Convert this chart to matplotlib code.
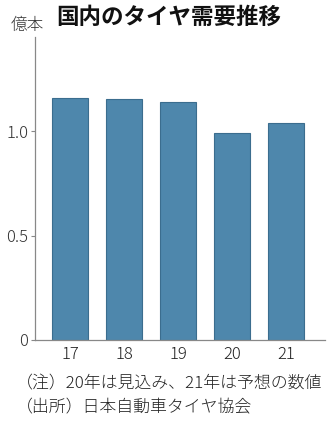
import matplotlib.pyplot as plt

plt.rcParams['font.family'] = ['Noto Sans CJK JP', 'DejaVu Sans']

years = ['17', '18', '19', '20', '21']
demand = [1.158, 1.153, 1.14, 0.99, 1.038]  # 億本
yticks = [0, 0.5, 1.0]
ytick_labels = ['0', '0.5', '1.0']

fig = plt.figure(figsize=(3.36, 4.26), dpi=100)
ax = fig.add_axes([35 / 336, 86 / 426, 290 / 336, 303 / 426])

x = range(len(years))
ax.bar(x, demand, width=0.67, color='#4e87ac', edgecolor='#3b6d8e', linewidth=0.8)

ax.set_xlim(-0.65, 4.72)
ax.set_ylim(0, 1.45)
ax.set_xticks(list(x))
ax.set_xticklabels(years, fontsize=12, color='#222222', fontweight='light')
ax.set_yticks(yticks)
ax.set_yticklabels(ytick_labels, fontsize=12, color='#333333', fontweight='light')
ax.tick_params(axis='x', length=0, pad=4)
ax.tick_params(axis='y', length=3, width=0.8, color='#888888', pad=2)

for s in ['top', 'right']:
    ax.spines[s].set_visible(False)
for s in ['left', 'bottom']:
    ax.spines[s].set_color('#888888')
    ax.spines[s].set_linewidth(0.9)

fig.text(56 / 336, 1 - 17 / 426, '国内のタイヤ需要推移', fontsize=16.2, fontweight='bold',
         va='center', ha='left', color='#111111')
fig.text(27 / 336, 1 - 25 / 426, '億本', fontsize=12, fontweight='light',
         va='center', ha='center', color='#333333')
fig.text(16 / 336, 1 - 384 / 426, '（注）20年は見込み、21年は予想の数値', fontsize=12.2,
         fontweight='light', va='center', ha='left', color='#222222')
fig.text(16 / 336, 1 - 408 / 426, '（出所）日本自動車タイヤ協会', fontsize=12.2,
         fontweight='light', va='center', ha='left', color='#222222')

fig.savefig('out.png', dpi=100)
